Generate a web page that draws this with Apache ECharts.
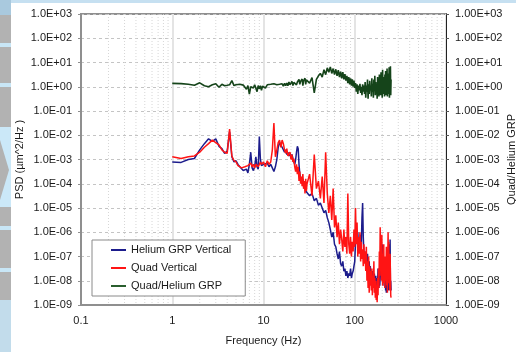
<!DOCTYPE html>
<html>
<head>
<meta charset="utf-8">
<script src="https://cdn.jsdelivr.net/npm/echarts@6/dist/echarts.min.js"></script>
<style>
  html, body { margin: 0; padding: 0; background: #ffffff; }
  #chart { width: 516px; height: 352px; }
</style>
</head>
<body>
<div id="chart"></div>
<script>
// Frequency bins (Hz)
const freq = [
  1,1.25,1.5,1.75,2,2.25,2.5,2.75,3,3.25,3.5,3.75,4,4.25,4.5,4.75,5,5.25,5.5,5.75,
  6,6.25,6.5,6.75,7,7.25,7.5,7.75,8,8.25,8.5,8.75,9,9.25,9.5,9.75,
  10,10.5,11,11.5,12,12.5,13,13.5,14,14.5,15,15.5,16,16.5,17,17.5,18,18.5,19,19.5,
  20,20.5,21,21.5,22,22.5,23,23.5,24,24.5,25,25.5,26,26.5,27,27.5,28,28.5,29,29.5,
  30,32,34,36,38,40,42,44,46,48,50,52,54,56,58,60,62,64,66,68,70,72,74,76,78,80,
  82,84,86,88,90,92,94,96,98,100,102,104,106,108,110,112,114,116,118,120,122,124,126,
  128,130,132,134,136,138,140,142,144,146,148,150,152,154,156,158,160,162,164,166,168,
  170,172,174,176,178,180,182,184,186,188,190,192,194,196,198,200,202,204,206,208,210,
  212,214,216,218,220,222,224,226,228,230,232,234,236,238,240,242,244,246,248,250
];

// PSD of the helium GRP, vertical (um^2/Hz)
const heliumVert = [
  7.9e-4,7.6e-4,1.0e-3,1.1e-3,2.5e-3,4.5e-3,7.1e-3,5.6e-3,7.1e-3,3.5e-3,
  2.8e-3,1.8e-3,2.2e-3,1.4e-2,1.3e-3,7.9e-4,8.9e-4,6.3e-4,5.0e-4,4.5e-4,
  3.5e-4,3.2e-4,4.0e-4,2.8e-4,6.3e-4,2.0e-3,4.5e-4,3.5e-4,5.0e-4,1.3e-3,
  5.0e-4,4.0e-4,8.9e-3,1.0e-3,5.6e-4,5.0e-4,
  6.3e-4,5.6e-4,7.1e-4,5.0e-4,6.3e-4,4.5e-4,3.2e-4,5.0e-4,1.0e-3,3.2e-3,
  5.0e-3,4.5e-3,3.2e-3,3.5e-3,2.0e-3,2.5e-3,1.6e-3,2.0e-3,1.4e-3,1.8e-3,
  1.3e-3,1.6e-3,1.1e-3,7.9e-4,6.3e-4,1.0e-3,2.0e-3,3.5e-3,2.8e-3,6.3e-4,
  2.5e-4,1.8e-4,1.3e-4,1.0e-4,1.6e-4,7.9e-5,6.3e-5,1.0e-4,5.0e-5,5.6e-5,
  5.0e-5,3.2e-5,4.0e-5,2.0e-5,2.5e-5,1.3e-5,
  1.6e-5,1.0e-5,6.3e-6,7.9e-6,4.0e-6,
  2.5e-6,1.3e-6,6.3e-7,1.0e-6,3.2e-7,
  2.5e-7,1.3e-7,7.9e-8,1.6e-7,5.0e-8,
  4.0e-8,6.3e-8,2.5e-8,3.2e-8,1.6e-8,
  2.5e-8,1.3e-8,2.0e-8,1.6e-8,3.2e-8,1.3e-8,2.0e-8,2.5e-8,4.0e-8,6.3e-8,
  4.0e-7,1.3e-6,5.0e-7,1.0e-6,2.5e-7,6.3e-7,1.6e-7,7.9e-7,3.2e-7,4.0e-6,1.6e-5,6.3e-7,1.3e-7,
  1.0e-7,1.6e-7,5.0e-8,1.0e-7,3.2e-8,1.3e-7,4.0e-8,2.5e-8,6.3e-8,1.6e-8,4.0e-8,2.0e-8,
  1.3e-8,7.9e-9,2.5e-8,6.3e-9,1.3e-8,5.0e-9,2.0e-8,1.0e-8,5.0e-9,1.6e-8,
  6.3e-9,4.0e-9,1.3e-8,7.9e-9,3.2e-8,1.0e-8,5.0e-9,2.0e-8,6.3e-9,1.3e-8,
  2.5e-8,6.3e-8,2.5e-7,4.0e-8,3.2e-7,1.6e-8,5.0e-8,1.0e-8,2.5e-8,6.3e-9,
  1.0e-8,5.0e-9,1.6e-8,4.0e-9,7.9e-9,3.2e-9,6.3e-9,1.3e-8,5.0e-9,4.0e-8,
  1.0e-8,4.0e-9,6.3e-8,7.9e-9,3.2e-7,1.6e-8,5.0e-7,5.0e-9,1.0e-8,4.0e-9
];

// PSD of the quad, vertical (um^2/Hz)
const quadVert = [
  1.3e-3,1.1e-3,1.3e-3,1.4e-3,2.0e-3,3.2e-3,4.5e-3,6.3e-3,5.0e-3,4.0e-3,
  2.5e-3,2.0e-3,1.8e-3,1.8e-2,1.4e-3,8.9e-4,7.9e-4,5.6e-4,5.0e-4,4.5e-4,
  4.0e-4,5.0e-4,4.5e-4,5.6e-4,5.0e-4,7.1e-4,5.0e-4,6.3e-4,4.5e-4,6.3e-4,
  7.1e-4,5.0e-4,6.3e-4,7.9e-4,6.3e-4,7.1e-4,
  7.9e-4,5.0e-4,8.9e-4,6.3e-4,7.9e-4,2.5e-3,3.2e-2,1.3e-3,2.5e-3,5.0e-3,
  6.3e-3,3.2e-3,6.3e-3,4.5e-3,2.5e-3,1.8e-3,2.8e-3,1.4e-3,1.3e-3,2.0e-3,
  1.0e-3,1.6e-3,7.9e-4,1.1e-3,5.0e-4,3.2e-4,6.3e-4,2.5e-4,5.0e-4,1.3e-4,
  3.2e-4,1.0e-4,2.0e-4,7.9e-5,2.5e-4,6.3e-5,1.3e-4,4.0e-5,1.6e-4,5.0e-5,
  1.0e-4,2.5e-4,3.2e-5,1.6e-3,6.3e-5,1.3e-4,
  2.5e-5,2.0e-4,1.6e-5,2.0e-3,4.0e-5,
  6.3e-6,3.2e-5,3.2e-6,6.3e-5,1.6e-6,
  5.0e-6,6.3e-7,2.5e-6,3.2e-7,1.3e-6,
  5.0e-7,1.6e-7,1.3e-6,2.5e-7,6.3e-7,
  1.3e-7,4.0e-5,3.2e-7,1.3e-7,6.3e-7,1.0e-7,4.0e-7,1.6e-7,1.3e-6,2.5e-7,
  1.0e-5,3.2e-7,2.5e-6,1.0e-7,6.3e-7,1.3e-7,1.0e-6,6.3e-8,4.0e-7,7.9e-8,2.0e-7,4.0e-8,3.2e-7,
  5.0e-8,1.6e-7,2.5e-8,2.5e-7,1.0e-8,6.3e-8,5.0e-9,1.0e-7,3.2e-9,4.0e-8,6.3e-9,2.5e-8,
  4.0e-9,3.2e-8,2.5e-9,1.6e-8,5.0e-9,6.3e-8,3.2e-9,1.3e-8,2.0e-9,1.0e-8,
  1.6e-9,6.3e-9,1.3e-9,1.3e-8,2.5e-9,3.2e-8,5.0e-9,1.6e-7,1.6e-8,1.6e-6,
  2.5e-8,5.0e-7,1.0e-8,7.9e-7,4.0e-8,6.3e-9,1.3e-7,1.6e-8,3.2e-7,7.9e-9,
  4.0e-8,5.0e-9,1.0e-7,1.0e-8,2.5e-8,2.5e-7,6.3e-9,5.0e-8,3.2e-9,7.9e-8,
  1.0e-6,1.6e-8,4.0e-7,7.9e-9,6.3e-8,4.0e-9,1.3e-7,2.0e-8,2.5e-9,2.0e-9
];

// Ratio quad / helium GRP (right axis)
const ratio = [
  1.38,1.35,1.26,1.15,1.45,1.10,1.0,1.2,1.32,0.95,1.26,1.1,1.15,1.2,1.78,1.12,
  1.2,1.1,1.26,1.07,1.17,1.05,0.79,1.12,0.5,1.0,1.15,0.89,1.2,1.0,0.63,1.12,0.83,1.1,0.71,1.05,
  1.12,0.89,1.2,1.0,1.26,1.05,1.32,1.1,1.2,1.0,1.26,1.15,1.32,1.05,1.38,1.12,1.41,1.1,1.58,1.2,
  1.32,1.66,1.12,1.51,1.26,1.78,1.2,1.58,1.32,2.0,1.26,1.66,1.41,2.09,1.12,1.78,1.51,2.24,1.26,1.91,
  2.0,1.41,2.4,0.56,2.0,2.82,
  3.55,2.51,5.01,3.16,6.03,
  3.98,6.61,3.55,5.62,3.16,
  5.25,2.82,4.79,2.51,4.17,
  2.24,3.98,2.0,3.31,1.78,
  2.82,1.41,2.51,1.26,2.24,1.12,2.0,1.0,1.78,0.89,
  1.41,0.63,1.26,0.5,1.12,0.71,1.32,0.56,1.0,0.45,1.26,0.63,1.12,
  0.5,1.58,0.35,1.12,0.63,2.0,0.32,1.26,0.5,1.78,0.71,1.0,
  0.4,2.24,0.63,1.26,0.35,2.0,0.79,2.82,0.45,1.58,0.56,1.12,0.32,2.51,0.71,1.78,0.4,3.16,0.63,1.41,
  0.45,3.98,0.79,2.0,0.35,5.01,0.63,2.51,0.5,1.58,
  0.4,3.16,0.79,4.47,0.45,2.0,0.63,5.62,0.4,1.58,0.5,3.55,0.71,6.31,0.35,2.51,0.63,7.08,0.45,2.0
];

const seriesNames = ['Helium GRP Vertical', 'Quad Vertical', 'Quad/Helium GRP'];

[heliumVert, quadVert, ratio].forEach(function (arr, i) {
  if (arr.length !== freq.length) {
    throw new Error(seriesNames[i] + ': ' + arr.length + ' values for ' + freq.length + ' bins');
  }
});

function pairs(values) {
  return freq.map(function (f, i) { return [f, values[i]]; });
}

// Intermediate (2..9 x decade) frequencies for the dotted vertical grid
const minorX = [];
[0.1, 1, 10, 100].forEach(function (d) {
  for (let k = 2; k <= 9; k++) minorX.push([+(k * d).toPrecision(3), 1]);
});

function sci(v, digits) {
  const e = Math.round(Math.log10(v));
  const s = e < 0 ? '-' : '+';
  const a = Math.abs(e);
  return (digits === 1 ? '1.0' : '1.00') + 'E' + s + (a < 10 ? '0' + a : a);
}

const FONT = "'Liberation Sans', Arial, sans-serif";
const TXT = '#1a1a1a';

const chart = echarts.init(document.getElementById('chart'), null, { renderer: 'canvas' });

chart.setOption({
  animation: false,
  backgroundColor: '#ffffff',
  textStyle: { fontFamily: FONT },
  graphic: [
    { type: 'rect', shape: { x: 0, y: 0, width: 516, height: 3 }, style: { fill: '#c6e0f1' }, silent: true },
    { type: 'rect', shape: { x: 0, y: 0, width: 11, height: 352 }, style: { fill: '#b2b2b2' }, silent: true },
    { type: 'rect', shape: { x: 0, y: 0, width: 11, height: 15 }, style: { fill: '#a9c9de' }, silent: true },
    { type: 'rect', shape: { x: 0, y: 43, width: 11, height: 4 }, style: { fill: '#c8e6f6' }, silent: true },
    { type: 'rect', shape: { x: 0, y: 83, width: 11, height: 4 }, style: { fill: '#c8e6f6' }, silent: true },
    { type: 'rect', shape: { x: 0, y: 127, width: 11, height: 80 }, style: { fill: '#cbe8f8' }, silent: true },
    { type: 'polygon', shape: { points: [[0, 140], [9, 170], [0, 200]] }, style: { fill: '#b2b2b2' }, silent: true },
    { type: 'rect', shape: { x: 0, y: 226, width: 11, height: 4 }, style: { fill: '#c8e6f6' }, silent: true },
    { type: 'rect', shape: { x: 0, y: 268, width: 11, height: 4 }, style: { fill: '#c8e6f6' }, silent: true },
    { type: 'rect', shape: { x: 0, y: 300, width: 11, height: 52 }, style: { fill: '#c2dceb' }, silent: true }
  ],
  grid: {
    left: 81, top: 14, right: 70, bottom: 47,
    containLabel: false, outerBoundsMode: 'none',
    show: true, borderColor: '#8f8f8f', borderWidth: 2, backgroundColor: '#ffffff'
  },
  legend: {
    data: seriesNames,
    orient: 'vertical',
    left: 92, top: 240,
    backgroundColor: '#ffffff',
    borderColor: '#8a8a8a', borderWidth: 1, borderRadius: 0,
    padding: [4, 14, 4, 19],
    itemGap: 6,
    itemWidth: 15, itemHeight: 2,
    icon: 'rect',
    textStyle: { fontFamily: FONT, fontSize: 11, color: TXT, lineHeight: 12 }
  },
  xAxis: {
    type: 'log', logBase: 10, min: 0.1, max: 1000, splitNumber: 4,
    name: 'Frequency (Hz)', nameLocation: 'middle', nameGap: 30,
    nameTextStyle: { fontFamily: FONT, fontSize: 11, color: TXT },
    axisLine: { show: true, lineStyle: { color: '#8f8f8f', width: 2 } },
    axisTick: { show: false },
    axisLabel: {
      fontFamily: FONT, fontSize: 11, color: TXT, margin: 10,
      formatter: function (v) { return v < 1 ? v.toFixed(1) : String(Math.round(v)); }
    },
    splitLine: { show: true, lineStyle: { color: '#e4e4e4', width: 2 } }
  },
  yAxis: [
    {
      type: 'log', logBase: 10, min: 1e-9, max: 1e3, interval: 1,
      name: 'PSD (µm^2/Hz )', nameLocation: 'middle', nameRotate: 90, nameGap: 56,
      nameMoveOverlap: false,
      nameTextStyle: { fontFamily: FONT, fontSize: 11, color: TXT },
      axisLine: { show: true, lineStyle: { color: '#8f8f8f', width: 2 } },
      axisTick: { show: true, length: 3, lineStyle: { color: '#8f8f8f' } },
      axisLabel: { fontFamily: FONT, fontSize: 11, color: TXT, margin: 9, formatter: function (v) { return sci(v, 1); } },
      splitLine: { show: true, lineStyle: { color: '#c4c4c4', width: 1, type: [3, 3] } }
    },
    {
      type: 'log', logBase: 10, min: 1e-9, max: 1e3, interval: 1,
      position: 'right',
      name: 'Quad/Helium GRP', nameLocation: 'middle', nameRotate: 90, nameGap: 60,
      nameMoveOverlap: false,
      nameTextStyle: { fontFamily: FONT, fontSize: 11, color: TXT },
      axisLine: { show: true, lineStyle: { color: '#222222', width: 1 } },
      axisTick: { show: true, length: 3, lineStyle: { color: '#555555' } },
      axisLabel: { fontFamily: FONT, fontSize: 11, color: TXT, margin: 9, formatter: function (v) { return sci(v, 2); } },
      splitLine: { show: false }
    }
  ],
  series: [
    {
      name: 'minor-grid',
      type: 'custom',
      silent: true,
      z: 1,
      data: minorX,
      renderItem: function (params, api) {
        const top = api.coord([api.value(0), 1e3]);
        const bot = api.coord([api.value(0), 1e-9]);
        return {
          type: 'line',
          shape: { x1: top[0], y1: top[1], x2: bot[0], y2: bot[1] },
          style: { stroke: '#d6d6d6', lineWidth: 1, lineDash: [1, 2] }
        };
      }
    },
    {
      name: seriesNames[0], type: 'line', yAxisIndex: 0, z: 3,
      data: pairs(heliumVert), showSymbol: false, symbol: 'none',
      lineStyle: { color: '#1c1c8c', width: 1.5 }, itemStyle: { color: '#1c1c8c' }
    },
    {
      name: seriesNames[1], type: 'line', yAxisIndex: 0, z: 4,
      data: pairs(quadVert), showSymbol: false, symbol: 'none',
      lineStyle: { color: '#ff1414', width: 1.5 }, itemStyle: { color: '#ff1414' }
    },
    {
      name: seriesNames[2], type: 'line', yAxisIndex: 1, z: 5,
      data: pairs(ratio), showSymbol: false, symbol: 'none',
      lineStyle: { color: '#15441a', width: 1.6 }, itemStyle: { color: '#2a5e2e' }
    }
  ]
});
</script>
</body>
</html>
